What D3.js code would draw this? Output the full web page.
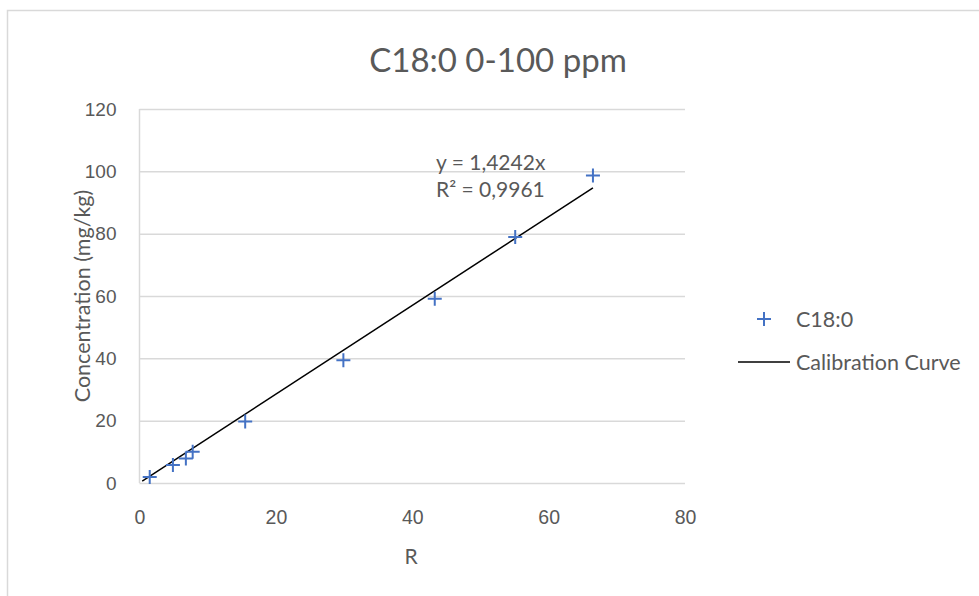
<!DOCTYPE html>
<html>
<head>
<meta charset="utf-8">
<script src="https://cdn.jsdelivr.net/npm/d3@7/dist/d3.min.js"></script>
<style>
  body { margin: 0; background: #fff; }
  svg { display: block; font-family: Lato, "Open Sans", sans-serif; }
</style>
</head>
<body>
<div id="chart"></div>
<script>
// values
const rValues = [1.5, 4.9, 6.8, 7.8, 15.5, 29.9, 43.3, 55.1, 66.5];
const concValues = [1.9, 5.8, 7.9, 10.0, 19.7, 39.4, 59.1, 78.9, 98.7];
const slope = 1.4242;
const trendRange = [0.4, 66.5];
const xTicks = [0, 20, 40, 60, 80];
const yTicks = [0, 20, 40, 60, 80, 100, 120];
const equationLines = ['y = 1,4242x', 'R² = 0,9961'];
const legendItems = ['C18:0', 'Calibration Curve'];

const W = 979, H = 596;
const textColor = '#595959';
const gridColor = '#d9d9d9';
const blue = '#4472c4';

const plot = { left: 139.5, right: 685, top: 109, bottom: 483 };

const svg = d3.select('#chart').append('svg')
    .attr('width', W)
    .attr('height', H);

svg.append('rect')
    .attr('width', W).attr('height', H)
    .attr('fill', '#fff');

// chart area border, runs off the right and bottom edge
svg.append('rect')
    .attr('x', 7.5).attr('y', 10.5)
    .attr('width', W).attr('height', H)
    .attr('fill', 'none')
    .attr('stroke', gridColor)
    .attr('stroke-width', 1.5);

const x = d3.scaleLinear().domain([0, 80]).range([plot.left, plot.right]);
const y = d3.scaleLinear().domain([0, 120]).range([plot.bottom, plot.top]);

// gridlines
const yAxis = d3.axisLeft(y)
    .tickValues(yTicks)
    .tickSize(-(plot.right - plot.left))
    .tickPadding(23)
    .tickFormat(d3.format('d'));

const gy = svg.append('g')
    .attr('transform', `translate(${plot.left},0)`)
    .call(yAxis);
gy.select('.domain').remove();
gy.selectAll('.tick line').attr('stroke', gridColor).attr('stroke-width', 1.5);
gy.selectAll('.tick text')
    .attr('fill', textColor)
    .attr('font-size', '19px');

// vertical axis line
svg.append('line')
    .attr('x1', plot.left).attr('x2', plot.left)
    .attr('y1', plot.top).attr('y2', plot.bottom)
    .attr('stroke', gridColor)
    .attr('stroke-width', 1.5);

const xAxis = d3.axisBottom(x)
    .tickValues(xTicks)
    .tickSize(0)
    .tickPadding(27)
    .tickFormat(d3.format('d'));

const gx = svg.append('g')
    .attr('transform', `translate(0,${plot.bottom})`)
    .call(xAxis);
gx.select('.domain').remove();
gx.selectAll('.tick text')
    .attr('fill', textColor)
    .attr('font-size', '19.5px');

// trendline
svg.append('line')
    .attr('x1', x(trendRange[0])).attr('y1', y(slope * trendRange[0]))
    .attr('x2', x(trendRange[1])).attr('y2', y(slope * trendRange[1]))
    .attr('stroke', '#000')
    .attr('stroke-width', 1.5);

// plus markers
const pts = rValues.map((r, i) => ({ r, c: concValues[i] }));
const plus = 'M-7,0H7M0,-7V7';
svg.append('g')
    .selectAll('path')
    .data(pts)
    .enter()
    .append('path')
    .attr('transform', d => `translate(${x(d.r)},${y(d.c)})`)
    .attr('d', plus)
    .attr('stroke', blue)
    .attr('stroke-width', 2)
    .attr('fill', 'none');

// equation label
svg.append('g')
    .selectAll('text')
    .data(equationLines)
    .enter()
    .append('text')
    .attr('x', 436)
    .attr('y', (d, i) => 163 + i * 27)
    .attr('dy', '0.35em')
    .attr('fill', textColor)
    .attr('font-size', '21px')
    .text(d => d);

// title
svg.append('text')
    .attr('x', 498).attr('y', 60)
    .attr('dy', '0.35em')
    .attr('text-anchor', 'middle')
    .attr('fill', textColor)
    .attr('font-size', '33px')
    .text('C18:0 0-100 ppm');

// axis titles
svg.append('text')
    .attr('x', 411).attr('y', 557)
    .attr('dy', '0.35em')
    .attr('text-anchor', 'middle')
    .attr('fill', textColor)
    .attr('font-size', '21px')
    .text('R');

svg.append('text')
    .attr('transform', `translate(82,${(plot.top + plot.bottom) / 2}) rotate(-90)`)
    .attr('dy', '0.35em')
    .attr('text-anchor', 'middle')
    .attr('fill', textColor)
    .attr('font-size', '21.5px')
    .text('Concentration (mg/kg)');

// legend
const lg = svg.append('g');
lg.append('path')
    .attr('transform', 'translate(764,319)')
    .attr('d', plus)
    .attr('stroke', blue)
    .attr('stroke-width', 2)
    .attr('fill', 'none');
lg.append('line')
    .attr('x1', 738).attr('x2', 790)
    .attr('y1', 362).attr('y2', 362)
    .attr('stroke', '#000')
    .attr('stroke-width', 1.5);
lg.selectAll('text')
    .data(legendItems)
    .enter()
    .append('text')
    .attr('x', 796)
    .attr('y', (d, i) => 319 + i * 43)
    .attr('dy', '0.35em')
    .attr('fill', textColor)
    .attr('font-size', '21.5px')
    .text(d => d);
</script>
</body>
</html>
